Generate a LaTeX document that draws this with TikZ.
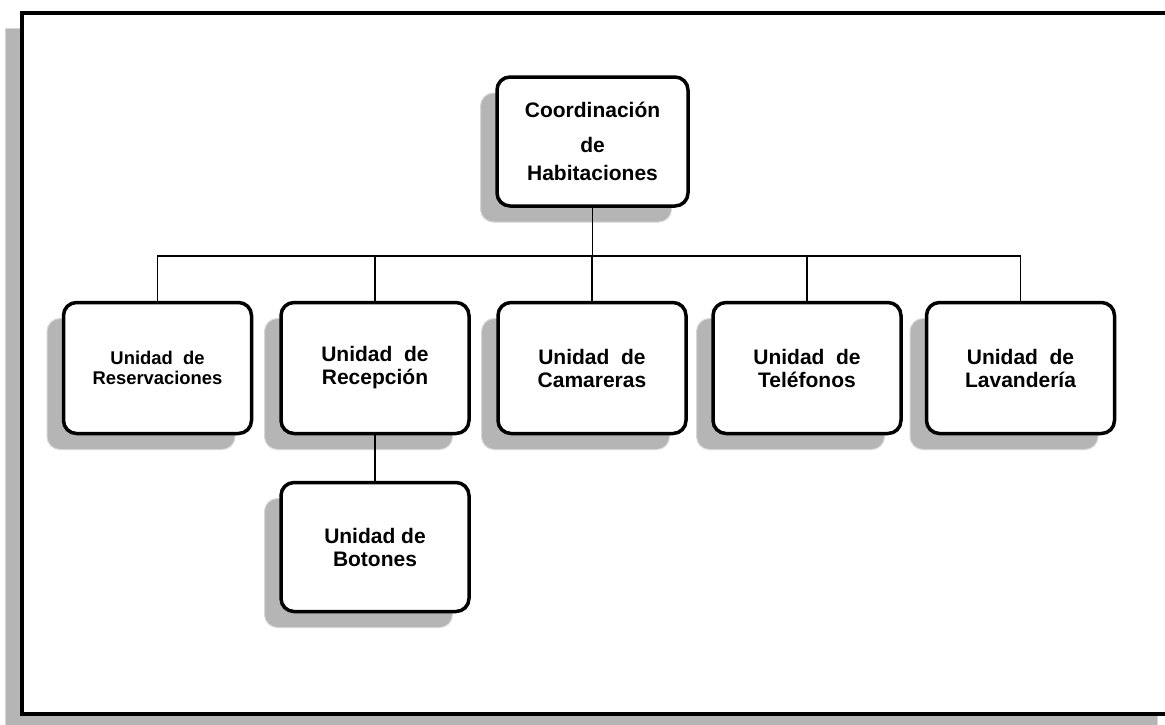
\documentclass[tikz,border=0pt]{standalone}
\usepackage{fontspec}
\setmainfont{Liberation Sans}
\usetikzlibrary{shadows}
\definecolor{shadefill}{gray}{0.71}
\definecolor{shadeedge}{gray}{0.84}
\tikzset{
  unitbox/.style={draw=black, line width=3.5pt, rounded corners=13pt, fill=white,
    align=center, minimum width=188pt, minimum height=131pt, inner sep=0pt,
    font=\bfseries\fontsize{21}{23}\selectfont,
    general shadow={shadow xshift=-16.5pt, shadow yshift=-16pt,
      fill=shadefill, draw=shadeedge, line width=1pt}},
  link/.style={line width=1.8pt, draw=black}
}
\begin{document}
\begin{tikzpicture}[x=1pt,y=-1pt]
\useasboundingbox (0,0) rectangle (1165,724);

% page frame with its shadow
\filldraw[fill=shadefill, draw=shadeedge, line width=1pt] (5.5,28.5) rectangle (1157.5,740);
\draw[line width=4pt, fill=white] (22,13) rectangle (1180,714);

% organisation chart
\node[unitbox, minimum width=191pt, minimum height=129pt,
      font=\bfseries\fontsize{21}{25}\selectfont] (coord) at (592.5,141.5)
  {Coordinación\\[10pt]de\\[3pt]Habitaciones};

\node[unitbox, font=\bfseries\fontsize{18.4}{20.5}\selectfont] (res) at (157.5,368)
  {Unidad\ \ de\\Reservaciones};
\node[unitbox] (rec) at (375,368) {Unidad\ \ de\\Recepción};
\node[unitbox] (cam) at (592,368) {Unidad\ \ de\\Camareras};
\node[unitbox] (tel) at (807,368) {Unidad\ \ de\\Teléfonos};
\node[unitbox] (lav) at (1020.5,368) {Unidad\ \ de\\Lavandería};

\node[unitbox, minimum height=129pt] (bot) at (375,547) {Unidad de\\Botones};

% connectors
\coordinate (bus) at (592,256);
\draw[link] (coord.south) -- (coord.south |- bus);
\draw[link] (res.north) -- (res.north |- bus) -- (lav.north |- bus) -- (lav.north);
\draw[link] (rec.north) -- (rec.north |- bus);
\draw[link] (cam.north) -- (cam.north |- bus);
\draw[link] (tel.north) -- (tel.north |- bus);
\draw[link] (rec.south) -- (bot.north);
\end{tikzpicture}
\end{document}
